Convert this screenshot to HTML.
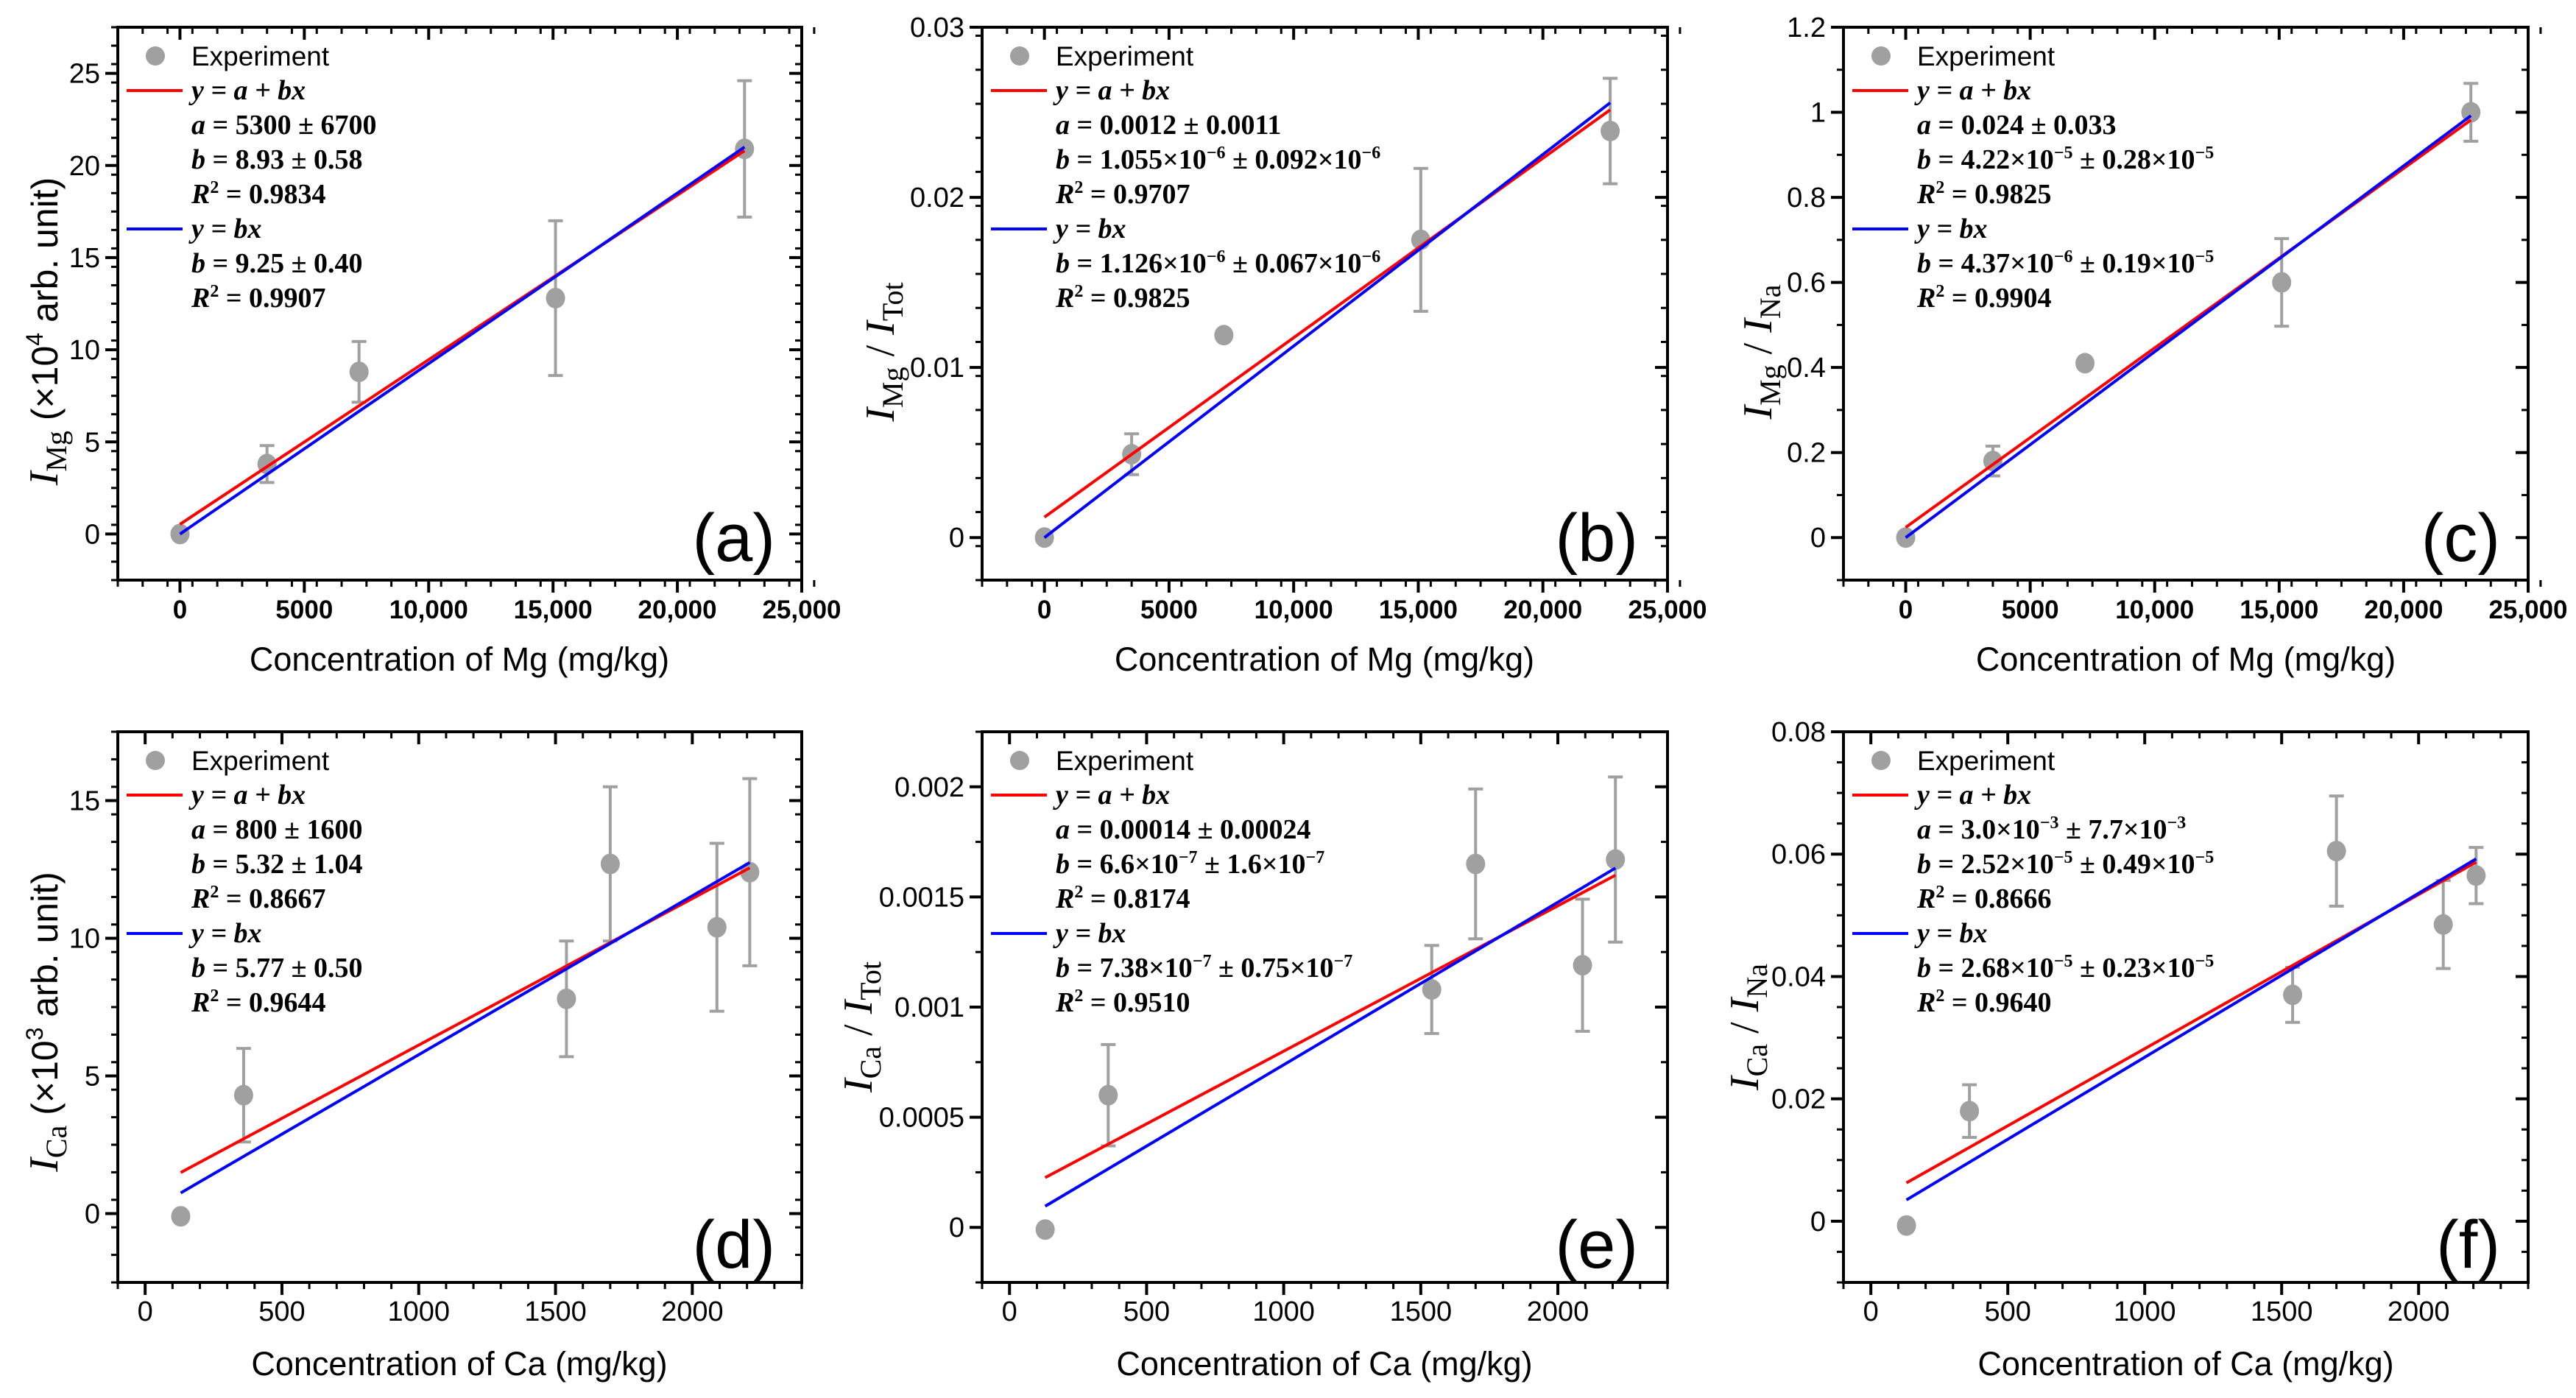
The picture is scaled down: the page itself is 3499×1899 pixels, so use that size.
<!DOCTYPE html>
<html><head><meta charset="utf-8"><title>Calibration curves</title>
<style>
html,body{margin:0;padding:0;background:#fff;}
svg{display:block;}
.sans{font-family:"Liberation Sans",sans-serif;}
.serif{font-family:"Liberation Serif",serif;}
.leg{font-family:"Liberation Serif",serif;font-weight:bold;font-size:38px;}
.plab{font-family:"Liberation Sans",sans-serif;font-size:92px;}
.xt{font-family:"Liberation Sans",sans-serif;font-size:45px;}
</style></head>
<body>
<svg id="fig" width="3499" height="1899" viewBox="0 0 3499 1899" xmlns="http://www.w3.org/2000/svg">
<rect width="3499" height="1899" fill="#fff"/>
<g id="marks"></g>

<!-- Legends -->
<g transform="translate(160,37)">
 <circle cx="51" cy="39" r="13" fill="#a0a0a0"/>
 <text class="sans" x="100" y="52" font-size="37">Experiment</text>
 <line x1="12" x2="88" y1="86" y2="86" stroke="#ff0000" stroke-width="4"/>
 <text class="leg" x="100" y="98" font-style="italic">y = a + bx</text>
 <text class="leg" x="100" y="145"><tspan font-style="italic">a</tspan> = 5300 ± 6700</text>
 <text class="leg" x="100" y="192"><tspan font-style="italic">b</tspan> = 8.93 ± 0.58</text>
 <text class="leg" x="100" y="239"><tspan font-style="italic">R</tspan><tspan dy="-14" font-size="24">2</tspan><tspan dy="14"> = 0.9834</tspan></text>
 <line x1="12" x2="88" y1="274" y2="274" stroke="#0000ff" stroke-width="4"/>
 <text class="leg" x="100" y="286" font-style="italic">y = bx</text>
 <text class="leg" x="100" y="333"><tspan font-style="italic">b</tspan> = 9.25 ± 0.40</text>
 <text class="leg" x="100" y="380"><tspan font-style="italic">R</tspan><tspan dy="-14" font-size="24">2</tspan><tspan dy="14"> = 0.9907</tspan></text>
</g>
<g transform="translate(1334,37)">
 <circle cx="51" cy="39" r="13" fill="#a0a0a0"/>
 <text class="sans" x="100" y="52" font-size="37">Experiment</text>
 <line x1="12" x2="88" y1="86" y2="86" stroke="#ff0000" stroke-width="4"/>
 <text class="leg" x="100" y="98" font-style="italic">y = a + bx</text>
 <text class="leg" x="100" y="145"><tspan font-style="italic">a</tspan> = 0.0012 ± 0.0011</text>
 <text class="leg" x="100" y="192"><tspan font-style="italic">b</tspan> = 1.055×10<tspan dy="-14" font-size="24">−6</tspan><tspan dy="14"> ± 0.092×10</tspan><tspan dy="-14" font-size="24">−6</tspan></text>
 <text class="leg" x="100" y="239"><tspan font-style="italic">R</tspan><tspan dy="-14" font-size="24">2</tspan><tspan dy="14"> = 0.9707</tspan></text>
 <line x1="12" x2="88" y1="274" y2="274" stroke="#0000ff" stroke-width="4"/>
 <text class="leg" x="100" y="286" font-style="italic">y = bx</text>
 <text class="leg" x="100" y="333"><tspan font-style="italic">b</tspan> = 1.126×10<tspan dy="-14" font-size="24">−6</tspan><tspan dy="14"> ± 0.067×10</tspan><tspan dy="-14" font-size="24">−6</tspan></text>
 <text class="leg" x="100" y="380"><tspan font-style="italic">R</tspan><tspan dy="-14" font-size="24">2</tspan><tspan dy="14"> = 0.9825</tspan></text>
</g>
<g transform="translate(2504,37)">
 <circle cx="51" cy="39" r="13" fill="#a0a0a0"/>
 <text class="sans" x="100" y="52" font-size="37">Experiment</text>
 <line x1="12" x2="88" y1="86" y2="86" stroke="#ff0000" stroke-width="4"/>
 <text class="leg" x="100" y="98" font-style="italic">y = a + bx</text>
 <text class="leg" x="100" y="145"><tspan font-style="italic">a</tspan> = 0.024 ± 0.033</text>
 <text class="leg" x="100" y="192"><tspan font-style="italic">b</tspan> = 4.22×10<tspan dy="-14" font-size="24">−5</tspan><tspan dy="14"> ± 0.28×10</tspan><tspan dy="-14" font-size="24">−5</tspan></text>
 <text class="leg" x="100" y="239"><tspan font-style="italic">R</tspan><tspan dy="-14" font-size="24">2</tspan><tspan dy="14"> = 0.9825</tspan></text>
 <line x1="12" x2="88" y1="274" y2="274" stroke="#0000ff" stroke-width="4"/>
 <text class="leg" x="100" y="286" font-style="italic">y = bx</text>
 <text class="leg" x="100" y="333"><tspan font-style="italic">b</tspan> = 4.37×10<tspan dy="-14" font-size="24">−6</tspan><tspan dy="14"> ± 0.19×10</tspan><tspan dy="-14" font-size="24">−5</tspan></text>
 <text class="leg" x="100" y="380"><tspan font-style="italic">R</tspan><tspan dy="-14" font-size="24">2</tspan><tspan dy="14"> = 0.9904</tspan></text>
</g>
<g transform="translate(160,994)">
 <circle cx="51" cy="39" r="13" fill="#a0a0a0"/>
 <text class="sans" x="100" y="52" font-size="37">Experiment</text>
 <line x1="12" x2="88" y1="86" y2="86" stroke="#ff0000" stroke-width="4"/>
 <text class="leg" x="100" y="98" font-style="italic">y = a + bx</text>
 <text class="leg" x="100" y="145"><tspan font-style="italic">a</tspan> = 800 ± 1600</text>
 <text class="leg" x="100" y="192"><tspan font-style="italic">b</tspan> = 5.32 ± 1.04</text>
 <text class="leg" x="100" y="239"><tspan font-style="italic">R</tspan><tspan dy="-14" font-size="24">2</tspan><tspan dy="14"> = 0.8667</tspan></text>
 <line x1="12" x2="88" y1="274" y2="274" stroke="#0000ff" stroke-width="4"/>
 <text class="leg" x="100" y="286" font-style="italic">y = bx</text>
 <text class="leg" x="100" y="333"><tspan font-style="italic">b</tspan> = 5.77 ± 0.50</text>
 <text class="leg" x="100" y="380"><tspan font-style="italic">R</tspan><tspan dy="-14" font-size="24">2</tspan><tspan dy="14"> = 0.9644</tspan></text>
</g>
<g transform="translate(1334,994)">
 <circle cx="51" cy="39" r="13" fill="#a0a0a0"/>
 <text class="sans" x="100" y="52" font-size="37">Experiment</text>
 <line x1="12" x2="88" y1="86" y2="86" stroke="#ff0000" stroke-width="4"/>
 <text class="leg" x="100" y="98" font-style="italic">y = a + bx</text>
 <text class="leg" x="100" y="145"><tspan font-style="italic">a</tspan> = 0.00014 ± 0.00024</text>
 <text class="leg" x="100" y="192"><tspan font-style="italic">b</tspan> = 6.6×10<tspan dy="-14" font-size="24">−7</tspan><tspan dy="14"> ± 1.6×10</tspan><tspan dy="-14" font-size="24">−7</tspan></text>
 <text class="leg" x="100" y="239"><tspan font-style="italic">R</tspan><tspan dy="-14" font-size="24">2</tspan><tspan dy="14"> = 0.8174</tspan></text>
 <line x1="12" x2="88" y1="274" y2="274" stroke="#0000ff" stroke-width="4"/>
 <text class="leg" x="100" y="286" font-style="italic">y = bx</text>
 <text class="leg" x="100" y="333"><tspan font-style="italic">b</tspan> = 7.38×10<tspan dy="-14" font-size="24">−7</tspan><tspan dy="14"> ± 0.75×10</tspan><tspan dy="-14" font-size="24">−7</tspan></text>
 <text class="leg" x="100" y="380"><tspan font-style="italic">R</tspan><tspan dy="-14" font-size="24">2</tspan><tspan dy="14"> = 0.9510</tspan></text>
</g>
<g transform="translate(2504,994)">
 <circle cx="51" cy="39" r="13" fill="#a0a0a0"/>
 <text class="sans" x="100" y="52" font-size="37">Experiment</text>
 <line x1="12" x2="88" y1="86" y2="86" stroke="#ff0000" stroke-width="4"/>
 <text class="leg" x="100" y="98" font-style="italic">y = a + bx</text>
 <text class="leg" x="100" y="145"><tspan font-style="italic">a</tspan> = 3.0×10<tspan dy="-14" font-size="24">−3</tspan><tspan dy="14"> ± 7.7×10</tspan><tspan dy="-14" font-size="24">−3</tspan></text>
 <text class="leg" x="100" y="192"><tspan font-style="italic">b</tspan> = 2.52×10<tspan dy="-14" font-size="24">−5</tspan><tspan dy="14"> ± 0.49×10</tspan><tspan dy="-14" font-size="24">−5</tspan></text>
 <text class="leg" x="100" y="239"><tspan font-style="italic">R</tspan><tspan dy="-14" font-size="24">2</tspan><tspan dy="14"> = 0.8666</tspan></text>
 <line x1="12" x2="88" y1="274" y2="274" stroke="#0000ff" stroke-width="4"/>
 <text class="leg" x="100" y="286" font-style="italic">y = bx</text>
 <text class="leg" x="100" y="333"><tspan font-style="italic">b</tspan> = 2.68×10<tspan dy="-14" font-size="24">−5</tspan><tspan dy="14"> ± 0.23×10</tspan><tspan dy="-14" font-size="24">−5</tspan></text>
 <text class="leg" x="100" y="380"><tspan font-style="italic">R</tspan><tspan dy="-14" font-size="24">2</tspan><tspan dy="14"> = 0.9640</tspan></text>
</g>

<!-- Panel labels -->
<text class="plab" x="1053" y="762" text-anchor="end">(a)</text>
<text class="plab" x="2225" y="762" text-anchor="end">(b)</text>
<text class="plab" x="3396" y="762" text-anchor="end">(c)</text>
<text class="plab" x="1053" y="1722" text-anchor="end">(d)</text>
<text class="plab" x="2225" y="1722" text-anchor="end">(e)</text>
<text class="plab" x="3396" y="1722" text-anchor="end">(f)</text>

<!-- X axis titles -->
<text class="xt" x="624" y="911" text-anchor="middle">Concentration of Mg (mg/kg)</text>
<text class="xt" x="1799" y="911" text-anchor="middle">Concentration of Mg (mg/kg)</text>
<text class="xt" x="2969" y="911" text-anchor="middle">Concentration of Mg (mg/kg)</text>
<text class="xt" x="624" y="1868" text-anchor="middle">Concentration of Ca (mg/kg)</text>
<text class="xt" x="1799" y="1868" text-anchor="middle">Concentration of Ca (mg/kg)</text>
<text class="xt" x="2969" y="1868" text-anchor="middle">Concentration of Ca (mg/kg)</text>

<!-- Y axis titles -->
<text transform="translate(78,450) rotate(-90)" text-anchor="middle"><tspan class="serif" font-style="italic" font-size="56">I</tspan><tspan class="serif" font-size="40" dy="12">Mg</tspan><tspan class="sans" font-size="50" dy="-12"> (×10</tspan><tspan class="sans" font-size="32" dy="-20">4</tspan><tspan class="sans" font-size="50" dy="20"> arb. unit)</tspan></text>
<text transform="translate(1214,478) rotate(-90)" text-anchor="middle"><tspan class="serif" font-style="italic" font-size="56">I</tspan><tspan class="serif" font-size="40" dy="12">Mg</tspan><tspan class="serif" font-size="56" dy="-12">  /  </tspan><tspan class="serif" font-style="italic" font-size="56">I</tspan><tspan class="serif" font-size="40" dy="12">Tot</tspan></text>
<text transform="translate(2406,478) rotate(-90)" text-anchor="middle"><tspan class="serif" font-style="italic" font-size="56">I</tspan><tspan class="serif" font-size="40" dy="12">Mg</tspan><tspan class="serif" font-size="56" dy="-12">  /  </tspan><tspan class="serif" font-style="italic" font-size="56">I</tspan><tspan class="serif" font-size="40" dy="12">Na</tspan></text>
<text transform="translate(78,1388) rotate(-90)" text-anchor="middle"><tspan class="serif" font-style="italic" font-size="56">I</tspan><tspan class="serif" font-size="40" dy="12">Ca</tspan><tspan class="sans" font-size="50" dy="-12"> (×10</tspan><tspan class="sans" font-size="32" dy="-20">3</tspan><tspan class="sans" font-size="50" dy="20"> arb. unit)</tspan></text>
<text transform="translate(1184,1395) rotate(-90)" text-anchor="middle"><tspan class="serif" font-style="italic" font-size="56">I</tspan><tspan class="serif" font-size="40" dy="12">Ca</tspan><tspan class="serif" font-size="56" dy="-12">  /  </tspan><tspan class="serif" font-style="italic" font-size="56">I</tspan><tspan class="serif" font-size="40" dy="12">Tot</tspan></text>
<text transform="translate(2388,1395) rotate(-90)" text-anchor="middle"><tspan class="serif" font-style="italic" font-size="56">I</tspan><tspan class="serif" font-size="40" dy="12">Ca</tspan><tspan class="serif" font-size="56" dy="-12">  /  </tspan><tspan class="serif" font-style="italic" font-size="56">I</tspan><tspan class="serif" font-size="40" dy="12">Na</tspan></text>
</svg>

<script>
// ---- data ----
const mgConc = [0, 3500, 7200, 15100, 22700];
const caConc = [130, 360, 1540, 1700, 2090, 2210];
const mgTicks = [0, 5000, 10000, 15000, 20000, 25000];
const mgTickLabels = ['0', '5000', '10,000', '15,000', '20,000', '25,000'];
const caTicks = [0, 500, 1000, 1500, 2000];
const caTickLabels = ['0', '500', '1000', '1500', '2000'];

const aY = [0, 3.8, 8.8, 12.8, 20.9];
const aErr = [0, 1.0, 1.65, 4.2, 3.7];
const aIntercept = [0.53, 0];
const aSlope = [8.93e-4, 9.25e-4];
const aYTicks = [0, 5, 10, 15, 20, 25];
const aYLabels = ['0', '5', '10', '15', '20', '25'];

const bY = [0, 0.0049, 0.0119, 0.0175, 0.0239];
const bErr = [0, 0.0012, 0, 0.0042, 0.0031];
const bIntercept = [0.0012, 0];
const bSlope = [1.055e-6, 1.126e-6];
const bYTicks = [0, 0.01, 0.02, 0.03];
const bYLabels = ['0', '0.01', '0.02', '0.03'];

const cY = [0, 0.18, 0.41, 0.60, 1.0];
const cErr = [0, 0.035, 0, 0.103, 0.068];
const cIntercept = [0.024, 0];
const cSlope = [4.22e-5, 4.37e-5];
const cYTicks = [0, 0.2, 0.4, 0.6, 0.8, 1.0, 1.2];
const cYLabels = ['0', '0.2', '0.4', '0.6', '0.8', '1', '1.2'];

const dY = [-0.1, 4.3, 7.8, 12.7, 10.4, 12.4];
const dErr = [0, 1.7, 2.1, 2.8, 3.05, 3.4];
const dIntercept = [0.8, 0];
const dSlope = [5.32e-3, 5.77e-3];
const dYTicks = [0, 5, 10, 15];
const dYLabels = ['0', '5', '10', '15'];

const eY = [-0.00001, 0.0006, 0.00108, 0.00165, 0.00119, 0.00167];
const eErr = [0, 0.00023, 0.0002, 0.00034, 0.0003, 0.000375];
const eIntercept = [0.00014, 0];
const eSlope = [6.6e-7, 7.38e-7];
const eYTicks = [0, 0.0005, 0.001, 0.0015, 0.002];
const eYLabels = ['0', '0.0005', '0.001', '0.0015', '0.002'];

const fY = [-0.0007, 0.018, 0.037, 0.0605, 0.0485, 0.0565];
const fErr = [0, 0.0043, 0.0045, 0.009, 0.0072, 0.0046];
const fIntercept = [0.003, 0];
const fSlope = [2.52e-5, 2.68e-5];
const fYTicks = [0, 0.02, 0.04, 0.06, 0.08];
const fYLabels = ['0', '0.02', '0.04', '0.06', '0.08'];

// ---- layout ----
const NS = 'http://www.w3.org/2000/svg';
const root = document.getElementById('marks');
function mk(tag, parent) { const e = document.createElementNS(NS, tag); parent.appendChild(e); return e; }

const panels = [
 {id:'a', L:160, R:1089, T:37, B:788, x0:-2500, x1:25000, y0:-2.5, y1:27.5, xs:mgTicks, xl:mgTickLabels, xm:1000, ys:aYTicks, yl:aYLabels, ym:1, x:mgConc, y:aY, e:aErr, ic:aIntercept, sl:aSlope, boldX:true},
 {id:'b', L:1334, R:2265, T:37, B:788, x0:-2500, x1:25000, y0:-0.0025, y1:0.03, xs:mgTicks, xl:mgTickLabels, xm:1000, ys:bYTicks, yl:bYLabels, ym:0.002, x:mgConc, y:bY, e:bErr, ic:bIntercept, sl:bSlope, boldX:true},
 {id:'c', L:2504, R:3434, T:37, B:788, x0:-2500, x1:25000, y0:-0.1, y1:1.2, xs:mgTicks, xl:mgTickLabels, xm:1000, ys:cYTicks, yl:cYLabels, ym:0.1, x:mgConc, y:cY, e:cErr, ic:cIntercept, sl:cSlope, boldX:true},
 {id:'d', L:160, R:1089, T:994, B:1742, x0:-100, x1:2400, y0:-2.5, y1:17.5, xs:caTicks, xl:caTickLabels, xm:100, ys:dYTicks, yl:dYLabels, ym:1, x:caConc, y:dY, e:dErr, ic:dIntercept, sl:dSlope, boldX:false},
 {id:'e', L:1334, R:2265, T:994, B:1742, x0:-100, x1:2400, y0:-0.00025, y1:0.00225, xs:caTicks, xl:caTickLabels, xm:100, ys:eYTicks, yl:eYLabels, ym:0.00025, x:caConc, y:eY, e:eErr, ic:eIntercept, sl:eSlope, boldX:false},
 {id:'f', L:2504, R:3434, T:994, B:1742, x0:-100, x1:2400, y0:-0.01, y1:0.08, xs:caTicks, xl:caTickLabels, xm:100, ys:fYTicks, yl:fYLabels, ym:0.005, x:caConc, y:fY, e:fErr, ic:fIntercept, sl:fSlope, boldX:false}
];

panels.forEach(function(p) {
  const sx = v => p.L + (v - p.x0) / (p.x1 - p.x0) * (p.R - p.L);
  const sy = v => p.B - (v - p.y0) / (p.y1 - p.y0) * (p.B - p.T);
  const g = mk('g', root);
  
  

  const nx = Math.round((p.x1 - p.x0) / p.xm);
  for (let k = 0; k <= nx; k++) {
    const X = sx(p.x0 + k * p.xm);
    [[p.B, p.B + 9], [p.T, p.T + 9]].forEach(function(s) {
      const t = mk('line', g);
      
      
      t.setAttribute('x1', X); t.setAttribute('x2', X); t.setAttribute('y1', s[0]); t.setAttribute('y2', s[1]);
      t.setAttribute('stroke', '#000'); t.setAttribute('stroke-width', 3);
    });
  }
  const ny = Math.round((p.y1 - p.y0) / p.ym);
  for (let k = 0; k <= ny; k++) {
    const Y = sy(p.y0 + k * p.ym);
    [[p.L - 9, p.L], [p.R - 9, p.R]].forEach(function(s) {
      const t = mk('line', g);
      
      
      t.setAttribute('x1', s[0]); t.setAttribute('x2', s[1]); t.setAttribute('y1', Y); t.setAttribute('y2', Y);
      t.setAttribute('stroke', '#000'); t.setAttribute('stroke-width', 3);
    });
  }
  p.xs.forEach(function(v, i) {
    const X = sx(v);
    [[p.B, p.B + 17], [p.T, p.T + 17]].forEach(function(s) {
      const t = mk('line', g);
      
      
      t.setAttribute('x1', X); t.setAttribute('x2', X); t.setAttribute('y1', s[0]); t.setAttribute('y2', s[1]);
      t.setAttribute('stroke', '#000'); t.setAttribute('stroke-width', 4);
    });
    const lb = mk('text', g);
    
    
    lb.setAttribute('x', X); lb.setAttribute('y', p.B + 52);
    lb.setAttribute('text-anchor', 'middle');
    lb.setAttribute('font-family', '"Liberation Sans", sans-serif');
    lb.setAttribute('font-size', p.boldX ? 35 : 38);
    if (p.boldX) lb.setAttribute('font-weight', 'bold');
    lb.textContent = p.xl[i];
  });
  p.ys.forEach(function(v, i) {
    const Y = sy(v);
    [[p.L - 17, p.L], [p.R - 17, p.R]].forEach(function(s) {
      const t = mk('line', g);
      
      
      t.setAttribute('x1', s[0]); t.setAttribute('x2', s[1]); t.setAttribute('y1', Y); t.setAttribute('y2', Y);
      t.setAttribute('stroke', '#000'); t.setAttribute('stroke-width', 4);
    });
    const lb = mk('text', g);
    
    
    lb.setAttribute('x', p.L - 24); lb.setAttribute('y', Y + 13);
    lb.setAttribute('text-anchor', 'end');
    lb.setAttribute('font-family', '"Liberation Sans", sans-serif');
    lb.setAttribute('font-size', 38);
    lb.textContent = p.yl[i];
  });
  const fr = mk('rect', g);
  
  
  fr.setAttribute('x', p.L); fr.setAttribute('y', p.T);
  fr.setAttribute('width', p.R - p.L); fr.setAttribute('height', p.B - p.T);
  fr.setAttribute('fill', 'none'); fr.setAttribute('stroke', '#000'); fr.setAttribute('stroke-width', 4);

  p.x.forEach(function(xv, i) {
    if (!p.e[i]) return;
    const X = sx(xv), Y1 = sy(p.y[i] - p.e[i]), Y2 = sy(p.y[i] + p.e[i]);
    const eb = mk('path', g);
    
    
    eb.setAttribute('d', 'M' + X + ' ' + Y1 + 'V' + Y2 + 'M' + (X - 10) + ' ' + Y1 + 'H' + (X + 10) + 'M' + (X - 10) + ' ' + Y2 + 'H' + (X + 10));
    eb.setAttribute('stroke', '#a0a0a0'); eb.setAttribute('stroke-width', 4); eb.setAttribute('fill', 'none');
  });
  p.x.forEach(function(xv, i) {
    const c = mk('ellipse', g);
    
    
    c.setAttribute('cx', sx(xv)); c.setAttribute('cy', sy(p.y[i]));
    c.setAttribute('rx', 13); c.setAttribute('ry', 14);
    c.setAttribute('fill', '#a0a0a0');
  });
  const xa = p.x[0], xb = p.x[p.x.length - 1];
  ['#ff0000', '#0000ff'].forEach(function(col, j) {
    const ln = mk('line', g);
    
    
    ln.setAttribute('x1', sx(xa)); ln.setAttribute('y1', sy(p.ic[j] + p.sl[j] * xa));
    ln.setAttribute('x2', sx(xb)); ln.setAttribute('y2', sy(p.ic[j] + p.sl[j] * xb));
    ln.setAttribute('stroke', col); ln.setAttribute('stroke-width', 4);
  });
});
</script>
</body></html>
